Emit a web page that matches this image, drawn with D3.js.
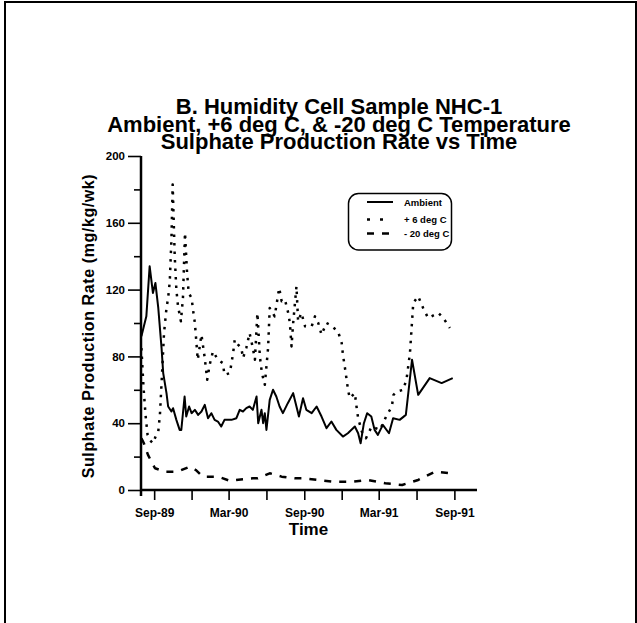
<!DOCTYPE html>
<html><head><meta charset="utf-8">
<script src="https://cdn.jsdelivr.net/npm/d3@7"></script>
<style>
body{margin:0;background:#fff}
svg{display:block}
text{font-family:"Liberation Sans",Arial,Helvetica,sans-serif;font-weight:bold;fill:#000}
</style>
</head><body>
<svg id="chart" width="637" height="623"></svg>
<script>
// ---------- DATA ----------
const titleLines = ["B.  Humidity Cell Sample NHC-1", "Ambient, +6 deg C, & -20 deg C Temperature", "Sulphate Production Rate vs Time"];
const yAxisTitle = "Sulphate Production Rate (mg/kg/wk)";
const xAxisTitle = "Time";
const seriesNames = ["Ambient", "+ 6 deg C", "- 20 deg C"];

const ambientDates = ["1989-08-01","1989-08-07","1989-08-13","1989-08-21","1989-08-29","1989-09-04","1989-09-11","1989-09-19","1989-09-23","1989-10-01","1989-10-05","1989-10-13","1989-10-17","1989-10-25","1989-11-02","1989-11-06","1989-11-14","1989-11-18","1989-11-25","1989-12-01","1989-12-09","1989-12-17","1989-12-25","1990-01-02","1990-01-10","1990-01-18","1990-01-26","1990-02-03","1990-02-11","1990-02-19","1990-02-27","1990-03-08","1990-03-20","1990-03-28","1990-04-05","1990-04-13","1990-04-21","1990-04-29","1990-05-08","1990-05-12","1990-05-20","1990-05-24","1990-05-28","1990-06-01","1990-06-09","1990-06-17","1990-06-25","1990-07-03","1990-07-11","1990-07-23","1990-08-05","1990-08-13","1990-08-19","1990-08-29","1990-09-06","1990-09-19","1990-10-01","1990-10-13","1990-10-25","1990-11-06","1990-11-18","1990-12-04","1990-12-16","1991-01-02","1991-01-10","1991-01-16","1991-01-24","1991-02-01","1991-02-11","1991-02-19","1991-02-27","1991-03-11","1991-03-26","1991-04-05","1991-04-21","1991-05-06","1991-05-21","1991-06-05","1991-07-03","1991-08-01","1991-08-28"];
const ambientValues = [92,98,104,134,118,124,109,85,70,58,50,47,49,42,36,36,56,44,50,46,48,45,47,51,43,46,42,41,38,42,42,42,43,48,47,49,50,48,56,40,48,40,46,36,54,60,56,50,46,52,58,50,44,55,48,46,50,44,37,41,36,32,34,38,34,28,40,46,44,36,33,39,34,43,42,45,78,57,67,64,67];

const plus6Dates = ["1989-08-01","1989-08-06","1989-08-11","1989-08-16","1989-08-21","1989-08-29","1989-09-06","1989-09-11","1989-09-15","1989-09-19","1989-09-25","1989-10-01","1989-10-05","1989-10-09","1989-10-13","1989-10-16","1989-10-21","1989-10-25","1989-10-29","1989-11-05","1989-11-10","1989-11-15","1989-11-20","1989-11-24","1989-12-01","1989-12-05","1989-12-09","1989-12-16","1989-12-25","1990-01-02","1990-01-08","1990-01-14","1990-01-22","1990-02-03","1990-02-15","1990-02-19","1990-03-04","1990-03-12","1990-03-16","1990-03-24","1990-04-01","1990-04-05","1990-04-13","1990-04-21","1990-04-29","1990-05-04","1990-05-10","1990-05-16","1990-05-21","1990-05-28","1990-06-05","1990-06-09","1990-06-21","1990-07-02","1990-07-08","1990-07-16","1990-07-24","1990-07-28","1990-08-01","1990-08-05","1990-08-13","1990-08-17","1990-08-25","1990-09-03","1990-09-11","1990-09-19","1990-09-27","1990-10-05","1990-10-13","1990-10-25","1990-11-02","1990-11-22","1990-12-01","1990-12-04","1990-12-09","1990-12-13","1990-12-17","1990-12-21","1991-01-02","1991-01-06","1991-01-10","1991-01-19","1991-01-29","1991-02-12","1991-03-04","1991-03-19","1991-04-02","1991-04-06","1991-04-14","1991-04-30","1991-05-08","1991-05-16","1991-05-20","1991-05-24","1991-06-05","1991-06-17","1991-06-29","1991-07-24","1991-08-05","1991-08-21"];
const plus6Values = [85,62,45,33,30,28,33,35,45,64,94,109,115,125,150,183,140,120,110,101,115,154,130,118,115,107,100,78,93,79,66,75,83,78,76,69,70,82,90,87,85,79,85,94,85,78,106,80,70,63,85,109,104,121,113,114,106,100,86,100,122,101,106,98,98,98,104,100,93,100,99,95,88,81,73,66,59,55,58,50,43,35,31,38,36,44,50,57,59,60,67,82,97,112,116,109,103,106,103,97];

const minus20Dates = ["1989-08-01","1989-08-07","1989-08-17","1989-09-03","1989-09-27","1989-10-28","1989-11-27","1989-12-11","1989-12-28","1990-02-03","1990-03-04","1990-04-05","1990-04-29","1990-05-11","1990-06-09","1990-07-08","1990-08-09","1990-08-29","1990-10-04","1990-11-10","1990-12-27","1991-02-03","1991-03-17","1991-04-27","1991-06-05","1991-07-16","1991-08-21"];
const minus20Values = [31,28,21,13,11,11,14,12,8,8,5.5,6.5,7,7,10,8,7,7,6,5,5,6,4,3,6,11,10];

const yMajorTicks = [0,40,80,120,160,200];
const yMinorTicks = [20,60,100,140,180];
const xTickDates = ["1989-09-01","1989-12-01","1990-03-01","1990-06-01","1990-09-01","1990-12-01","1991-03-01","1991-06-01","1991-09-01"];
const xTickLabels = ["Sep-89","","Mar-90","","Sep-90","","Mar-91","","Sep-91"];
const xDomain = ["1989-07-31","1991-10-26"];

// ---------- CHART ----------
const parse = d3.utcParse("%Y-%m-%d");
const svg = d3.select("#chart");
svg.append("rect").attr("width",637).attr("height",623).attr("fill","#fff");

// page frame
svg.append("path").attr("d","M5,623 V2 H636 V623").attr("fill","none").attr("stroke","#000").attr("stroke-width",2);

const x = d3.scaleUtc().domain(xDomain.map(parse)).range([141,477]);
const y = d3.scaleLinear().domain([0,200]).range([490,156]);

// title
svg.append("g").selectAll("text").data(titleLines).join("text")
  .attr("x",339).attr("y",(d,i)=>[114,132,149][i])
  .attr("text-anchor","middle").style("font-size","22px").text(d=>d);

// y axis minor ticks
const gyMin = svg.append("g").attr("transform","translate(141,0)")
  .call(d3.axisLeft(y).tickValues(yMinorTicks).tickSize(7).tickFormat(""));
gyMin.select(".domain").remove();
gyMin.selectAll("line").attr("stroke-width",1.6);
// y axis major ticks
const gy = svg.append("g").attr("transform","translate(141,0)")
  .call(d3.axisLeft(y).tickValues(yMajorTicks).tickSize(13).tickPadding(3));
gy.select(".domain").remove();
gy.selectAll("line").attr("stroke-width",1.6);
gy.selectAll("text").style("font-size","11.5px").style("font-family","'Liberation Sans',Arial,sans-serif").attr("font-weight","bold");

// x axis ticks
const gx = svg.append("g").attr("transform","translate(0,490)")
  .call(d3.axisBottom(x).tickValues(xTickDates.map(parse)).tickSize(10).tickFormat((d,i)=>xTickLabels[i]));
gx.select(".domain").remove();
gx.selectAll("line").attr("stroke-width",1.6);
gx.selectAll("text").attr("y",27).attr("dy",0).style("font-size","12px").style("font-family","'Liberation Sans',Arial,sans-serif").attr("font-weight","bold");

// axis lines
svg.append("line").attr("x1",x.range()[0]).attr("x2",x.range()[0]).attr("y1",y(200)).attr("y2",y(0)+6)
  .attr("stroke","#000").attr("stroke-width",2.5);
svg.append("line").attr("x1",x.range()[0]-1).attr("x2",x.range()[1]).attr("y1",y(0)).attr("y2",y(0))
  .attr("stroke","#000").attr("stroke-width",2.5);

// axis titles
svg.append("text").attr("transform","translate(93.5,326) rotate(-90)").attr("text-anchor","middle")
  .style("font-size","16px").style("letter-spacing","0.6px").text(yAxisTitle);
svg.append("text").attr("x",308.5).attr("y",535).attr("text-anchor","middle").style("font-size","17px").text(xAxisTitle);

// series
const styles = [
  {dash:null, width:2},
  {dash:"2.5,6", width:2.5},
  {dash:"7,8", width:2.5}
];
const series = [
  ambientDates.map((d,i)=>[parse(d),ambientValues[i]]),
  plus6Dates.map((d,i)=>[parse(d),plus6Values[i]]),
  minus20Dates.map((d,i)=>[parse(d),minus20Values[i]])
];
const line = d3.line().x(d=>x(d[0])).y(d=>y(d[1]));
series.forEach((s,i)=>{
  svg.append("path").datum(s).attr("d",line).attr("fill","none").attr("stroke","#000")
    .attr("stroke-width",styles[i].width).attr("stroke-dasharray",styles[i].dash).attr("stroke-linejoin","round");
});

// legend
const lg = svg.append("g");
lg.append("rect").attr("x",348.5).attr("y",193.5).attr("width",103).attr("height",56.5).attr("rx",10)
  .attr("fill","#fff").attr("stroke","#000").attr("stroke-width",1.5);
const ly = [202,219.5,233.5], lty=[205.5,222.5,236.5];
seriesNames.forEach((n,i)=>{
  lg.append("line").attr("x1",367).attr("x2",393).attr("y1",ly[i]).attr("y2",ly[i]).attr("stroke","#000")
    .attr("stroke-width",styles[i].width).attr("stroke-dasharray",i===1?"3,10":styles[i].dash);
  lg.append("text").attr("x",404).attr("y",lty[i]).style("font-size","9.5px").text(n);
});
</script>
</body></html>
